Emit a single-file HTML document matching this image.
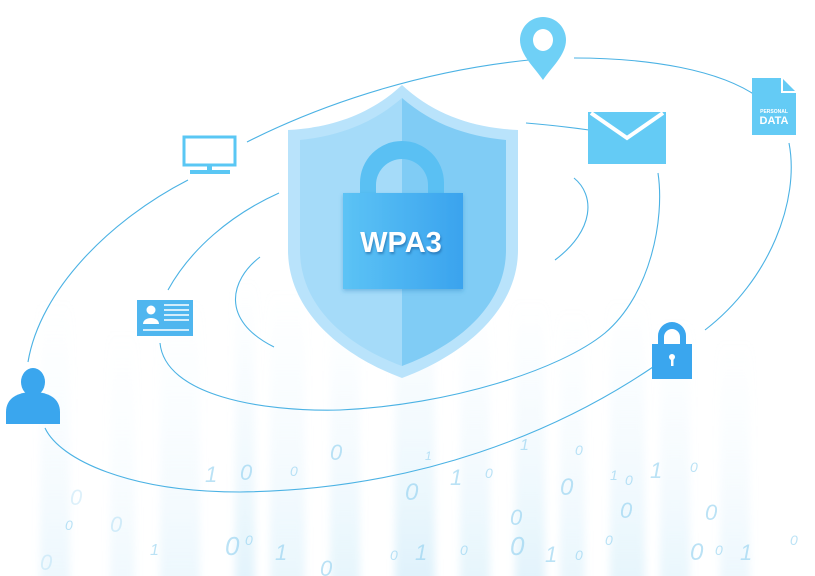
<!DOCTYPE html>
<html><head><meta charset="utf-8"><style>
html,body{margin:0;padding:0;background:#fff;}
#w{position:relative;width:815px;height:576px;overflow:hidden;background:#fff;font-family:"Liberation Sans",sans-serif;}
</style></head><body><div id="w">
<svg width="815" height="576" viewBox="0 0 815 576" xmlns="http://www.w3.org/2000/svg">
<defs>
<linearGradient id="stripe" x1="0" y1="0" x2="0" y2="1">
<stop offset="0" stop-color="#d6effb" stop-opacity="0"/>
<stop offset="0.5" stop-color="#d6effb" stop-opacity="0.35"/>
<stop offset="1" stop-color="#c9e9f9" stop-opacity="0.7"/>
</linearGradient>
<linearGradient id="lockg" x1="0" y1="0" x2="1" y2="0">
<stop offset="0" stop-color="#5cc3f5"/><stop offset="1" stop-color="#3aa3ee"/>
</linearGradient>
<filter id="sh" x="-20%" y="-20%" width="140%" height="140%"><feDropShadow dx="0" dy="2" stdDeviation="2" flood-color="#2a7fc0" flood-opacity="0.4"/></filter>
<filter id="bl"><feGaussianBlur stdDeviation="4"/></filter>
</defs>
<g fill="url(#stripe)" filter="url(#bl)">
<rect x="40" y="300" width="30" height="290" opacity="0.5"/>
<rect x="110" y="330" width="25" height="260" opacity="0.4"/>
<rect x="160" y="300" width="40" height="290" opacity="0.5"/>
<rect x="235" y="280" width="20" height="310" opacity="0.8"/>
<rect x="270" y="290" width="35" height="300" opacity="0.6"/>
<rect x="330" y="300" width="30" height="290" opacity="0.7"/>
<rect x="395" y="280" width="40" height="310" opacity="0.9"/>
<rect x="460" y="300" width="30" height="290" opacity="0.7"/>
<rect x="515" y="300" width="30" height="290" opacity="0.8"/>
<rect x="560" y="310" width="25" height="280" opacity="0.6"/>
<rect x="610" y="300" width="35" height="290" opacity="0.7"/>
<rect x="660" y="320" width="30" height="270" opacity="0.6"/>
<rect x="720" y="340" width="30" height="250" opacity="0.5"/>
</g>
<g fill="none" stroke="#4bb2e4" stroke-width="1.1">
<path d="M28 362 C40 290 110 220 188 180"/>
<path d="M247 142 C330 100 430 70 529 60"/>
<path d="M574 58 C650 58 720 70 758 97"/>
<path d="M789 143 C800 200 770 280 705 330"/>
<path d="M653 367 C560 430 420 490 240 492 C130 492 60 460 45 428"/>
<path d="M168 290 C190 250 230 215 279 193"/>
<path d="M160 343 C165 395 260 412 340 410 C450 405 560 370 605 333 C650 295 665 220 658 173"/>
<path d="M526 123 C550 125 575 128 589 130"/>
<path d="M260 257 C230 280 220 320 274 347"/>
<path d="M574 178 C595 195 595 230 555 260"/>
</g>
<g fill="#8fd0f0" font-family="Liberation Sans, sans-serif" font-style="italic" opacity="0.6">
<text x="330" y="460" font-size="22">0</text>
<text x="205" y="482" font-size="22">1</text>
<text x="240" y="480" font-size="22">0</text>
<text x="290" y="476" font-size="14">0</text>
<text x="425" y="460" font-size="12">1</text>
<text x="520" y="450" font-size="16">1</text>
<text x="575" y="455" font-size="14">0</text>
<text x="450" y="485" font-size="22">1</text>
<text x="485" y="478" font-size="14">0</text>
<text x="405" y="500" font-size="24">0</text>
<text x="560" y="495" font-size="24">0</text>
<text x="610" y="480" font-size="14">1</text>
<text x="625" y="485" font-size="14">0</text>
<text x="650" y="478" font-size="22">1</text>
<text x="690" y="472" font-size="14">0</text>
<text x="70" y="505" font-size="22" opacity="0.5">0</text>
<text x="620" y="518" font-size="22">0</text>
<text x="705" y="520" font-size="22">0</text>
<text x="510" y="525" font-size="22">0</text>
<text x="110" y="532" font-size="22" opacity="0.6">0</text>
<text x="225" y="555" font-size="26">0</text>
<text x="245" y="545" font-size="14">0</text>
<text x="275" y="560" font-size="22">1</text>
<text x="415" y="560" font-size="22">1</text>
<text x="510" y="555" font-size="26">0</text>
<text x="545" y="562" font-size="22">1</text>
<text x="575" y="560" font-size="14">0</text>
<text x="690" y="560" font-size="24">0</text>
<text x="715" y="555" font-size="14">0</text>
<text x="740" y="560" font-size="22">1</text>
<text x="790" y="545" font-size="14">0</text>
<text x="40" y="570" font-size="22" opacity="0.5">0</text>
<text x="320" y="576" font-size="22">0</text>
<text x="390" y="560" font-size="14">0</text>
<text x="460" y="555" font-size="14">0</text>
<text x="150" y="555" font-size="16">1</text>
<text x="65" y="530" font-size="14">0</text>
<text x="605" y="545" font-size="14">0</text>
</g>
<path d="M402 85 C370 115 330 128 288 130 L288 250 C288 310 340 355 402 378 C464 355 518 310 518 250 L518 130 C474 128 434 115 402 85 Z" fill="#b9e3fb"/>
<path d="M402 98 C372 124 338 136 300 140 L300 250 C300 305 345 345 402 366 L402 98 Z" fill="#a5dbf9"/>
<path d="M402 98 C432 124 466 136 506 140 L506 250 C506 305 459 345 402 366 Z" fill="#80ccf5"/>
<path d="M360 195 L360 183 A42 42 0 0 1 444 183 L444 195 L428 195 L428 185 A26 26 0 0 0 376 185 L376 195 Z" fill="#5ac0f3"/>
<rect x="343" y="193" width="120" height="96" fill="url(#lockg)" filter="url(#sh)"/>
<text x="401" y="252" font-size="29" font-weight="bold" fill="#fff" text-anchor="middle" style="filter:drop-shadow(1px 2px 1px rgba(20,80,140,0.5))">WPA3</text>
<path d="M543 80 C535 68 520 55 520 40 A23 23 0 0 1 566 40 C566 55 551 68 543 80 Z" fill="#6fd0f6"/>
<ellipse cx="543" cy="40" rx="10" ry="11" fill="#fff"/>
<path d="M752 78 L782 78 L796 92 L796 135 L752 135 Z" fill="#64cbf5"/>
<path d="M782 78 L782 92 L796 92" fill="none" stroke="#fff" stroke-width="2"/>
<text x="774" y="113" font-size="5" font-weight="bold" fill="#fff" text-anchor="middle">PERSONAL</text>
<text x="774" y="124" font-size="11" font-weight="bold" fill="#fff" text-anchor="middle">DATA</text>
<rect x="588" y="112" width="78" height="52" fill="#64cbf5"/>
<path d="M591 113 L627 138 L663 113" fill="none" stroke="#fff" stroke-width="4"/>
<rect x="184" y="137" width="51" height="28" fill="none" stroke="#5ac7f4" stroke-width="3"/>
<rect x="207" y="165" width="5" height="6" fill="#5ac7f4"/>
<rect x="190" y="170" width="40" height="4" fill="#5ac7f4"/>
<rect x="137" y="300" width="56" height="36" fill="#4fb6ef"/>
<circle cx="151" cy="310" r="4.5" fill="#fff"/>
<path d="M143 324 C143 316 159 316 159 324 Z" fill="#fff"/>
<g stroke="#fff" stroke-width="1.6"><line x1="164" y1="305" x2="189" y2="305"/><line x1="164" y1="310" x2="189" y2="310"/><line x1="164" y1="315" x2="189" y2="315"/><line x1="164" y1="320" x2="189" y2="320"/><line x1="143" y1="330" x2="189" y2="330"/></g>
<path d="M658 345 L658 336 A14 14 0 0 1 686 336 L686 345 L680 345 L680 337 A8 8 0 0 0 664 337 L664 345 Z" fill="#3aa6ee"/>
<rect x="652" y="344" width="40" height="35" fill="#3aa6ee"/>
<circle cx="672" cy="357" r="3" fill="#fff"/><rect x="671" y="358" width="2.5" height="8" fill="#fff"/>
<ellipse cx="33" cy="382" rx="12" ry="14" fill="#3aa6ee"/>
<path d="M6 424 L6 412 C6 398 18 392 33 392 C48 392 60 398 60 412 L60 424 Z" fill="#3aa6ee"/>
</svg>
</div></body></html>
